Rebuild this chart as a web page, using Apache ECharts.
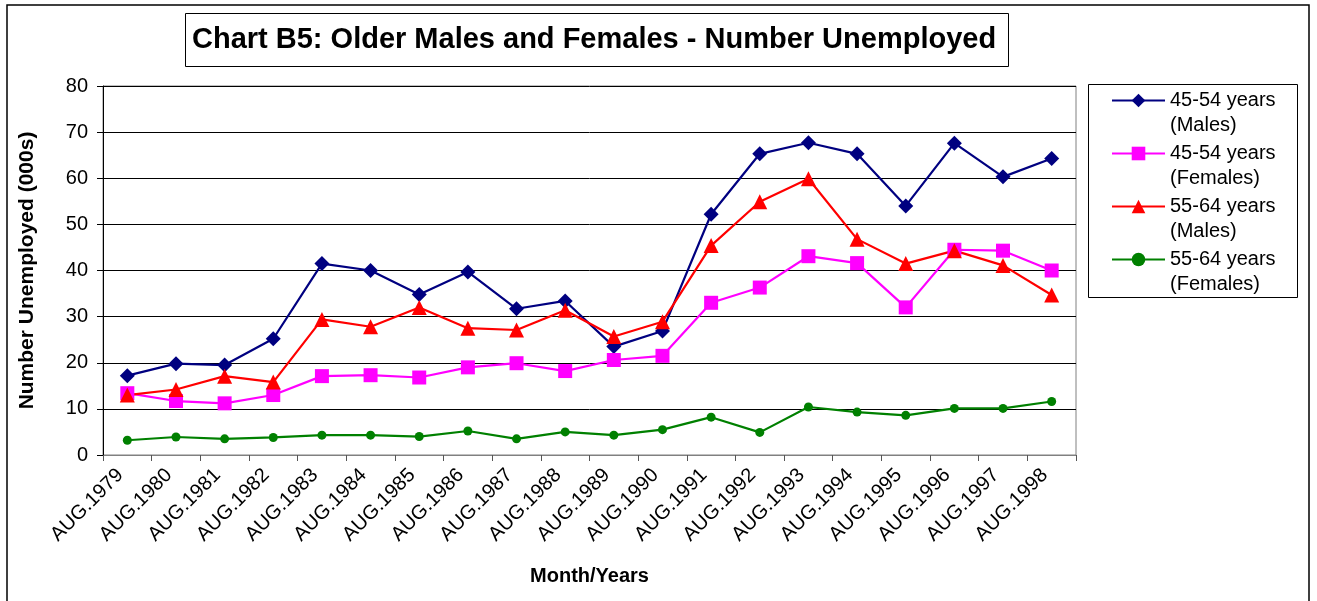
<!DOCTYPE html>
<html>
<head>
<meta charset="utf-8">
<script src="https://cdn.jsdelivr.net/npm/echarts@6/dist/echarts.min.js"></script>
<style>
  html, body { margin: 0; padding: 0; background: #fff; }
  #chart { width: 1317px; height: 601px; }
</style>
</head>
<body>
<div id="chart"></div>
<script>
var years = ['AUG.1979', 'AUG.1980', 'AUG.1981', 'AUG.1982', 'AUG.1983', 'AUG.1984', 'AUG.1985',
    'AUG.1986', 'AUG.1987', 'AUG.1988', 'AUG.1989', 'AUG.1990', 'AUG.1991', 'AUG.1992',
    'AUG.1993', 'AUG.1994', 'AUG.1995', 'AUG.1996', 'AUG.1997', 'AUG.1998'];

var males4554 = [17.2, 19.8, 19.5, 25.2, 41.5, 40.0, 34.8, 39.7, 31.7, 33.4,
    23.5, 26.9, 52.2, 65.3, 67.7, 65.3, 54.0, 67.6, 60.3, 64.3];
var females4554 = [13.4, 11.7, 11.2, 13.0, 17.1, 17.3, 16.8, 19.0, 19.9, 18.2,
    20.6, 21.5, 33.0, 36.3, 43.1, 41.6, 32.0, 44.5, 44.3, 40.0];
var males5564 = [13.0, 14.2, 17.1, 15.8, 29.4, 27.8, 32.0, 27.5, 27.1, 31.4,
    25.7, 28.9, 45.4, 54.9, 59.9, 46.8, 41.5, 44.3, 41.1, 34.7];
var females5564 = [3.2, 3.9, 3.5, 3.8, 4.3, 4.3, 4.0, 5.2, 3.5, 5.0,
    4.3, 5.5, 8.2, 4.9, 10.4, 9.3, 8.6, 10.1, 10.1, 11.6];

var seriesNames = ['45-54 years\n(Males)', '45-54 years\n(Females)', '55-64 years\n(Males)', '55-64 years\n(Females)'];

var font = 'Liberation Sans, Arial, sans-serif';

function lineSeries(name, data, color, symbol, size) {
    return {
        name: name,
        type: 'line',
        data: data,
        symbol: symbol,
        symbolSize: size,
        showAllSymbol: true,
        lineStyle: { color: color, width: 2.2 },
        itemStyle: { color: color },
        emphasis: { disabled: true },
        animation: false
    };
}

var myChart = echarts.init(document.getElementById('chart'));
var option = {
    backgroundColor: '#fff',
    animation: false,
    title: {
        text: 'Chart B5: Older Males and Females - Number Unemployed',
        left: 185,
        top: 13,
        padding: [10, 13, 10, 7],
        borderColor: '#000',
        borderWidth: 1,
        textStyle: {
            fontFamily: font,
            fontWeight: 'bold',
            fontSize: 29,
            lineHeight: 34,
            color: '#000'
        }
    },
    graphic: [{
        type: 'rect',
        shape: { x: 7, y: 5, width: 1302, height: 620 },
        style: { fill: null, stroke: '#000', lineWidth: 1.5 },
        silent: true
    }, {
        type: 'rect',
        shape: { x: 1088.5, y: 84.5, width: 209, height: 213 },
        style: { fill: null, stroke: '#000', lineWidth: 1 },
        silent: true
    }],
    legend: {
        orient: 'vertical',
        left: 1111,
        top: 63,
        itemWidth: 53,
        itemHeight: 17,
        itemGap: -22,
        padding: 0,
        data: seriesNames,
        // blank first line keeps the marker level with the first text line
        formatter: function (name) {
            return '\n' + name;
        },
        textStyle: {
            fontFamily: font,
            fontSize: 20,
            lineHeight: 25,
            color: '#000'
        }
    },
    grid: {
        left: 103,
        top: 86,
        right: 241,
        bottom: 146,
        show: true,
        borderColor: '#808080',
        borderWidth: 1
    },
    xAxis: {
        type: 'category',
        data: years,
        boundaryGap: true,
        name: 'Month/Years',
        nameLocation: 'middle',
        nameGap: 111,
        nameTextStyle: { fontFamily: font, fontWeight: 'bold', fontSize: 20, color: '#000' },
        axisLine: { lineStyle: { color: '#808080', width: 1 } },
        axisTick: { show: true, alignWithLabel: false, length: 6, lineStyle: { color: '#555' } },
        axisLabel: {
            rotate: 45,
            interval: 0,
            margin: 10,
            padding: [0, 10, 0, 0],
            fontFamily: font,
            fontSize: 20,
            color: '#000'
        },
        splitLine: { show: false }
    },
    yAxis: {
        type: 'value',
        min: 0,
        max: 80,
        interval: 10,
        name: 'Number Unemployed (000s)',
        nameLocation: 'middle',
        nameGap: 65,
        nameTextStyle: { fontFamily: font, fontWeight: 'bold', fontSize: 21, color: '#000' },
        axisLine: { show: true, lineStyle: { color: '#000', width: 1 } },
        axisTick: { show: true, length: 6, lineStyle: { color: '#000' } },
        axisLabel: { margin: 15, fontFamily: font, fontSize: 20, color: '#000' },
        splitLine: { show: true, lineStyle: { color: '#000', width: 1 } }
    },
    series: [
        lineSeries(seriesNames[0], males4554, '#000080', 'diamond', [15, 15]),
        lineSeries(seriesNames[1], females4554, '#FF00FF', 'rect', 14),
        lineSeries(seriesNames[2], males5564, '#FF0000', 'triangle', 15),
        lineSeries(seriesNames[3], females5564, '#008000', 'circle', 9)
    ]
};
myChart.setOption(option);
</script>
</body>
</html>
